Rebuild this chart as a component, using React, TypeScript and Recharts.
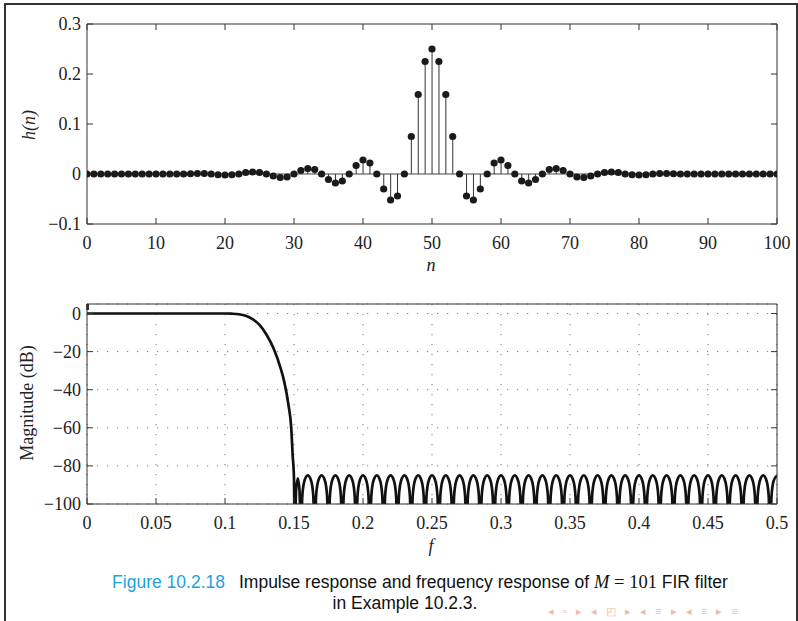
import {
  ComposedChart, LineChart, Line, Bar, Scatter, XAxis, YAxis,
  CartesianGrid, ReferenceLine,
} from "recharts"

// impulse response h(n), n = 0..100
const nVals = [
  0, 1, 2, 3, 4, 5, 6, 7, 8, 9, 10, 11, 12, 13, 14, 15, 16, 17, 18, 19, 20,
  21, 22, 23, 24, 25, 26, 27, 28, 29, 30, 31, 32, 33, 34, 35, 36, 37, 38, 39, 40,
  41, 42, 43, 44, 45, 46, 47, 48, 49, 50, 51, 52, 53, 54, 55, 56, 57, 58, 59, 60,
  61, 62, 63, 64, 65, 66, 67, 68, 69, 70, 71, 72, 73, 74, 75, 76, 77, 78, 79, 80,
  81, 82, 83, 84, 85, 86, 87, 88, 89, 90, 91, 92, 93, 94, 95, 96, 97, 98, 99, 100,
]
const hVals = [
  0, 0, 0, 0, 0, 0, 0, 0, 0, 0, 0, 0, 0, 0, 0, 0.0005, 0.001, 0.001, 0, -0.0015, -0.002,
  -0.0015, 0, 0.003, 0.004, 0.003, 0, -0.004, -0.007, -0.006, 0, 0.007, 0.011, 0.009, 0, -0.011, -0.018, -0.014, 0, 0.017, 0.028,
  0.022, 0, -0.03, -0.052, -0.044, 0, 0.075, 0.159, 0.225, 0.25, 0.225, 0.159, 0.075, 0, -0.044, -0.052, -0.03, 0, 0.022, 0.028,
  0.017, 0, -0.014, -0.018, -0.011, 0, 0.009, 0.011, 0.007, 0, -0.006, -0.007, -0.004, 0, 0.003, 0.004, 0.003, 0, -0.0015, -0.002,
  -0.0015, 0, 0.001, 0.001, 0.0005, 0, 0, 0, 0, 0, 0, 0, 0, 0, 0, 0, 0, 0, 0, 0,
]
const nTicks = [0, 10, 20, 30, 40, 50, 60, 70, 80, 90, 100]
const hTicks = [-0.1, 0, 0.1, 0.2, 0.3]

// magnitude response in dB
const freqF = [
  0, 0.05, 0.1, 0.105, 0.11, 0.115, 0.12, 0.125, 0.13, 0.135, 0.14, 0.143, 0.146, 0.148, 0.149, 0.15,
  0.1505, 0.1515, 0.1528, 0.154,
  0.155, 0.156, 0.1575, 0.16, 0.1625, 0.164,
  0.165, 0.166, 0.1675, 0.17, 0.1725, 0.174,
  0.175, 0.176, 0.1775, 0.18, 0.1825, 0.184,
  0.185, 0.186, 0.1875, 0.19, 0.1925, 0.194,
  0.195, 0.196, 0.1975, 0.2, 0.2025, 0.204,
  0.205, 0.206, 0.2075, 0.21, 0.2125, 0.214,
  0.215, 0.216, 0.2175, 0.22, 0.2225, 0.224,
  0.225, 0.226, 0.2275, 0.23, 0.2325, 0.234,
  0.235, 0.236, 0.2375, 0.24, 0.2425, 0.244,
  0.245, 0.246, 0.2475, 0.25, 0.2525, 0.254,
  0.255, 0.256, 0.2575, 0.26, 0.2625, 0.264,
  0.265, 0.266, 0.2675, 0.27, 0.2725, 0.274,
  0.275, 0.276, 0.2775, 0.28, 0.2825, 0.284,
  0.285, 0.286, 0.2875, 0.29, 0.2925, 0.294,
  0.295, 0.296, 0.2975, 0.3, 0.3025, 0.304,
  0.305, 0.306, 0.3075, 0.31, 0.3125, 0.314,
  0.315, 0.316, 0.3175, 0.32, 0.3225, 0.324,
  0.325, 0.326, 0.3275, 0.33, 0.3325, 0.334,
  0.335, 0.336, 0.3375, 0.34, 0.3425, 0.344,
  0.345, 0.346, 0.3475, 0.35, 0.3525, 0.354,
  0.355, 0.356, 0.3575, 0.36, 0.3625, 0.364,
  0.365, 0.366, 0.3675, 0.37, 0.3725, 0.374,
  0.375, 0.376, 0.3775, 0.38, 0.3825, 0.384,
  0.385, 0.386, 0.3875, 0.39, 0.3925, 0.394,
  0.395, 0.396, 0.3975, 0.4, 0.4025, 0.404,
  0.405, 0.406, 0.4075, 0.41, 0.4125, 0.414,
  0.415, 0.416, 0.4175, 0.42, 0.4225, 0.424,
  0.425, 0.426, 0.4275, 0.43, 0.4325, 0.434,
  0.435, 0.436, 0.4375, 0.44, 0.4425, 0.444,
  0.445, 0.446, 0.4475, 0.45, 0.4525, 0.454,
  0.455, 0.456, 0.4575, 0.46, 0.4625, 0.464,
  0.465, 0.466, 0.4675, 0.47, 0.4725, 0.474,
  0.475, 0.476, 0.4775, 0.48, 0.4825, 0.484,
  0.485, 0.486, 0.4875, 0.49, 0.4925, 0.494,
  0.495, 0.496, 0.4975, 0.5,
]
const freqDb = [
  0, 0, 0, -0.1, -0.4, -1.2, -3, -6, -11, -18, -28, -36, -48, -60, -74, -87,
  -120, -93, -86.5, -93,
  -120, -96, -88, -85, -88, -96,
  -120, -96, -88, -85, -88, -96,
  -120, -96, -88, -85, -88, -96,
  -120, -96, -88, -85, -88, -96,
  -120, -96, -88, -85, -88, -96,
  -120, -96, -88, -85, -88, -96,
  -120, -96, -88, -85, -88, -96,
  -120, -96, -88, -85, -88, -96,
  -120, -96, -88, -85, -88, -96,
  -120, -96, -88, -85, -88, -96,
  -120, -96, -88, -85, -88, -96,
  -120, -96, -88, -85, -88, -96,
  -120, -96, -88, -85, -88, -96,
  -120, -96, -88, -85, -88, -96,
  -120, -96, -88, -85, -88, -96,
  -120, -96, -88, -85, -88, -96,
  -120, -96, -88, -85, -88, -96,
  -120, -96, -88, -85, -88, -96,
  -120, -96, -88, -85, -88, -96,
  -120, -96, -88, -85, -88, -96,
  -120, -96, -88, -85, -88, -96,
  -120, -96, -88, -85, -88, -96,
  -120, -96, -88, -85, -88, -96,
  -120, -96, -88, -85, -88, -96,
  -120, -96, -88, -85, -88, -96,
  -120, -96, -88, -85, -88, -96,
  -120, -96, -88, -85, -88, -96,
  -120, -96, -88, -85, -88, -96,
  -120, -96, -88, -85, -88, -96,
  -120, -96, -88, -85, -88, -96,
  -120, -96, -88, -85, -88, -96,
  -120, -96, -88, -85, -88, -96,
  -120, -96, -88, -85, -88, -96,
  -120, -96, -88, -85, -88, -96,
  -120, -96, -88, -85,
]
const fTicks = [0, 0.05, 0.1, 0.15, 0.2, 0.25, 0.3, 0.35, 0.4, 0.45, 0.5]
const dbTicks = [-100, -80, -60, -40, -20, 0]

const impulseData = nVals.map((n, i) => ({ n, h: hVals[i] }))
const freqData = freqF.map((f, i) => ({ f, db: freqDb[i] }))

const serif = '"Liberation Serif", "DejaVu Serif", serif'
const sans = '"Liberation Sans", Arial, sans-serif'
const tickStyle = { fontFamily: serif, fontSize: 18, fill: "#222" }
const axisColor = "#333"
const fmt = (v: number) => (v === 0 ? "0" : v < 0 ? `\u2212${-v}` : `${v}`)
const blank = () => ""
const margin = { top: 23, right: 20, bottom: 16, left: 27 }

const StemDot = (p: any) => <circle cx={p.cx} cy={p.cy} r={3.6} fill="#1a1a1a" />

export default function App() {
  return (
    <div style={{ position: "absolute", left: 0, top: 0, width: 798, height: 621, background: "#fff", overflow: "hidden" }}>
      <div style={{ position: "absolute", left: 4, top: 3, width: 790, height: 660, border: "2px solid #333" }} />

      <div style={{ position: "absolute", left: 0, top: 0 }}>
        <ComposedChart width={798} height={270} data={impulseData} margin={margin}>
          <XAxis dataKey="n" type="number" domain={[0, 100]} ticks={nTicks} interval={0} allowDataOverflow
            tickSize={-6} tickMargin={18} tick={tickStyle} stroke={axisColor} height={30} />
          <XAxis xAxisId="t" orientation="top" type="number" domain={[0, 100]} ticks={nTicks} interval={0} allowDataOverflow
            tickSize={-6} tickFormatter={blank} stroke={axisColor} height={1} />
          <YAxis type="number" domain={[-0.1, 0.3]} ticks={hTicks} interval={0} allowDataOverflow
            tickSize={-6} tickMargin={12} tick={tickStyle} tickFormatter={fmt} stroke={axisColor} width={60} />
          <YAxis yAxisId="r" orientation="right" type="number" domain={[-0.1, 0.3]} ticks={hTicks} interval={0} allowDataOverflow
            tickSize={-6} tickFormatter={blank} stroke={axisColor} width={1} />
          <ReferenceLine y={0} stroke="#444" />
          <Bar dataKey="h" barSize={1} fill="#333" isAnimationActive={false} />
          <Scatter dataKey="h" shape={StemDot} isAnimationActive={false} />
        </ComposedChart>
      </div>

      <div style={{ position: "absolute", left: 0, top: 280 }}>
        <LineChart width={798} height={270} data={freqData} margin={margin}>
          <CartesianGrid stroke="#777" strokeDasharray="1.2 8.8" />
          <XAxis dataKey="f" type="number" domain={[0, 0.5]} ticks={fTicks} interval={0} allowDataOverflow
            tickSize={-6} tickMargin={18} tick={tickStyle} stroke={axisColor} height={30} />
          <XAxis xAxisId="t" orientation="top" type="number" domain={[0, 0.5]} ticks={fTicks} interval={0} allowDataOverflow
            tickSize={-6} tickFormatter={blank} stroke={axisColor} height={1} />
          <YAxis type="number" domain={[-100, 5]} ticks={dbTicks} interval={0} allowDataOverflow
            tickSize={-6} tickMargin={12} tick={tickStyle} tickFormatter={fmt} stroke={axisColor} width={60} />
          <YAxis yAxisId="r" orientation="right" type="number" domain={[-100, 5]} ticks={dbTicks} interval={0} allowDataOverflow
            tickSize={-6} tickFormatter={blank} stroke={axisColor} width={1} />
          <Line dataKey="db" type="monotone" stroke="#111" strokeWidth={2.7} dot={false} isAnimationActive={false} />
        </LineChart>
      </div>

      {/* axis titles */}
      <div style={{ position: "absolute", left: 29, top: 125, transform: "translate(-50%,-50%) rotate(-90deg)", fontFamily: serif, fontSize: 18, fontStyle: "italic", whiteSpace: "nowrap", color: "#222" }}>
        h(n)
      </div>
      <div style={{ position: "absolute", left: 431, top: 265, transform: "translate(-50%,-50%)", fontFamily: serif, fontSize: 18, fontStyle: "italic", color: "#222" }}>
        n
      </div>
      <div style={{ position: "absolute", left: 27, top: 403, transform: "translate(-50%,-50%) rotate(-90deg)", fontFamily: serif, fontSize: 18, whiteSpace: "nowrap", color: "#222" }}>
        Magnitude (dB)
      </div>
      <div style={{ position: "absolute", left: 431, top: 546, transform: "translate(-50%,-50%)", fontFamily: serif, fontSize: 18, fontStyle: "italic", color: "#222" }}>
        f
      </div>

      {/* caption */}
      <div style={{ position: "absolute", left: 0, width: 840, top: 572, textAlign: "center", fontFamily: sans, fontSize: 17.5, lineHeight: "21px", color: "#111", whiteSpace: "nowrap" }}>
        <span style={{ color: "#1aa3e0" }}>Figure 10.2.18</span>
        <span style={{ marginLeft: 14 }}>Impulse response and frequency response of </span>
        <span style={{ fontFamily: serif, fontSize: 18.5 }}><i>M</i> = 101</span>
        <span> FIR filter</span>
      </div>
      <div style={{ position: "absolute", left: 0, width: 810, top: 593, textAlign: "center", fontFamily: sans, fontSize: 17.5, lineHeight: "21px", color: "#111" }}>
        in Example 10.2.3.
      </div>

      <div style={{ position: "absolute", left: 548, top: 605, fontFamily: sans, fontSize: 11, color: "#f3b9a2", letterSpacing: 3, whiteSpace: "nowrap" }}>
        ◂ ▫ ▸ ◂ ◰ ▸ ◂ ≡ ▸ ◂ ≡ ▸ ≡
      </div>
    </div>
  )
}
